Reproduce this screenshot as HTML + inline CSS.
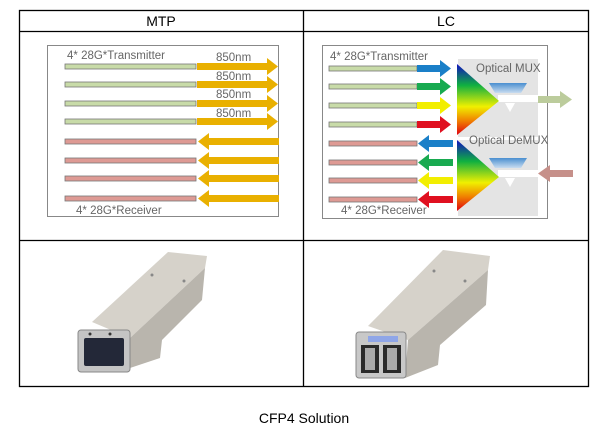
<!DOCTYPE html>
<html><head><meta charset="utf-8"><style>
body{margin:0;background:#fff;width:605px;height:438px;overflow:hidden}
svg{display:block}
text{font-family:"Liberation Sans",sans-serif}
</style></head><body>
<svg width="605" height="438" viewBox="0 0 605 438" xmlns="http://www.w3.org/2000/svg">
<defs>
<linearGradient id="sp" x1="0" y1="0" x2="0" y2="1">
<stop offset="0" stop-color="#1010c0"/><stop offset="0.3" stop-color="#10b040"/><stop offset="0.6" stop-color="#f0f000"/><stop offset="0.8" stop-color="#f08000"/><stop offset="1" stop-color="#e00010"/>
</linearGradient>
<linearGradient id="bl" x1="0" y1="0" x2="0" y2="1"><stop offset="0" stop-color="#4a8fd0"/><stop offset="1" stop-color="#c8dcf0"/></linearGradient>
</defs>
<g stroke="#000" stroke-width="1.3" fill="none">
<rect x="19.5" y="10.5" width="569" height="376"/>
<line x1="19" y1="31.5" x2="589" y2="31.5"/>
<line x1="19" y1="240.5" x2="589" y2="240.5"/>
<line x1="303.5" y1="10" x2="303.5" y2="387"/>
</g>
<text x="161" y="26" font-size="14" text-anchor="middle">MTP</text>
<text x="446" y="26" font-size="14" text-anchor="middle">LC</text>
<text x="304" y="423" font-size="14" text-anchor="middle">CFP4 Solution</text>

<rect x="47.5" y="45.5" width="231" height="171" fill="#fff" stroke="#888"/>
<g font-size="11.5" fill="#666">
<text x="67" y="59">4* 28G*Transmitter</text>
<text x="76" y="214">4* 28G*Receiver</text>
<text x="216" y="61">850nm</text><text x="216" y="80">850nm</text><text x="216" y="98">850nm</text><text x="216" y="117">850nm</text>
</g>
<g stroke="#777" stroke-width="0.8">
<rect x="65" y="64" width="131" height="5" fill="#c8dba8"/>
<rect x="65" y="82" width="131" height="5" fill="#c8dba8"/>
<rect x="65" y="101" width="131" height="5" fill="#c8dba8"/>
<rect x="65" y="119" width="131" height="5" fill="#c8dba8"/>
<rect x="65" y="139" width="131" height="5" fill="#de9a94"/>
<rect x="65" y="158" width="131" height="5" fill="#de9a94"/>
<rect x="65" y="176" width="131" height="5" fill="#de9a94"/>
<rect x="65" y="196" width="131" height="5" fill="#de9a94"/>
</g>
<g fill="#e9b000">
<path d="M197 63h70v-5l11 8.5-11 8.5v-5h-70z"/>
<path d="M197 81h70v-5l11 8.5-11 8.5v-5h-70z"/>
<path d="M197 100h70v-5l11 8.5-11 8.5v-5h-70z"/>
<path d="M197 118h70v-5l11 8.5-11 8.5v-5h-70z"/>
<path d="M279 138h-70v-5l-11 8.5 11 8.5v-5h70z"/>
<path d="M279 157h-70v-5l-11 8.5 11 8.5v-5h70z"/>
<path d="M279 175h-70v-5l-11 8.5 11 8.5v-5h70z"/>
<path d="M279 195h-70v-5l-11 8.5 11 8.5v-5h70z"/>
</g>

<rect x="322.5" y="45.5" width="225" height="173" fill="#fff" stroke="#888"/>
<rect x="458" y="59" width="80" height="78" fill="#e4e4e4"/>
<rect x="458" y="140" width="80" height="76" fill="#e4e4e4"/>
<rect x="498" y="95" width="40" height="7" fill="#fff"/>
<rect x="498" y="170" width="40" height="7" fill="#fff"/>
<g font-size="11.5" fill="#666">
<text x="330" y="60">4* 28G*Transmitter</text>
<text x="341" y="214">4* 28G*Receiver</text>
<text x="476" y="72">Optical MUX</text>
<text x="469" y="144">Optical DeMUX</text>
</g>
<path d="M489 83h38l-6 10h-26z" fill="url(#bl)"/>
<path d="M505 103h10l-5 9z" fill="#fff"/>
<path d="M489 158h38l-6 10h-26z" fill="url(#bl)"/>
<path d="M505 178h10l-5 9z" fill="#fff"/>
<path d="M457 64L457 135L499 101z" fill="url(#sp)"/>
<path d="M457 140L457 211L499 177z" fill="url(#sp)"/>
<path d="M538 96h22v-5l12 8.5-12 8.5v-5h-22z" fill="#bccc9c"/>
<path d="M573 170h-23v-5l-12 8.5 12 8.5v-5h23z" fill="#c6908a"/>
<g stroke="#777" stroke-width="0.8">
<rect x="329" y="66" width="88" height="5" fill="#c8dba8"/>
<rect x="329" y="84" width="88" height="5" fill="#c8dba8"/>
<rect x="329" y="103" width="88" height="5" fill="#c8dba8"/>
<rect x="329" y="122" width="88" height="5" fill="#c8dba8"/>
<rect x="329" y="141" width="88" height="5" fill="#de9a94"/>
<rect x="329" y="160" width="88" height="5" fill="#de9a94"/>
<rect x="329" y="178" width="88" height="5" fill="#de9a94"/>
<rect x="329" y="197" width="88" height="5" fill="#de9a94"/>
</g>
<path d="M417 65h23v-5l11 8.5-11 8.5v-5h-23z" fill="#1a7fc8"/>
<path d="M417 83h23v-5l11 8.5-11 8.5v-5h-23z" fill="#18aa50"/>
<path d="M417 102h23v-5l11 8.5-11 8.5v-5h-23z" fill="#f2ee00"/>
<path d="M417 121h23v-5l11 8.5-11 8.5v-5h-23z" fill="#e01020"/>
<path d="M453 140h-24v-5l-11 8.5 11 8.5v-5h24z" fill="#1a7fc8"/>
<path d="M453 159h-24v-5l-11 8.5 11 8.5v-5h24z" fill="#18aa50"/>
<path d="M453 177h-24v-5l-11 8.5 11 8.5v-5h24z" fill="#f2ee00"/>
<path d="M453 196h-24v-5l-11 8.5 11 8.5v-5h24z" fill="#e01020"/>

<g>
<path d="M92 322L168 252L207 256L205 268L130 338z" fill="#d6d2ca"/>
<path d="M130 338L205 268L202 300L162 340L160 358L130 368z" fill="#b9b5ad"/>
<rect x="78" y="330" width="52" height="42" rx="3" fill="#c4c4c4" stroke="#888"/>
<rect x="84" y="338" width="40" height="28" rx="2" fill="#232838"/>
<circle cx="90" cy="334" r="1.5" fill="#333"/><circle cx="110" cy="334" r="1.5" fill="#333"/>
<circle cx="152" cy="275" r="1.5" fill="#888"/><circle cx="184" cy="281" r="1.5" fill="#888"/>
</g>
<g>
<path d="M368 326L443 250L490 256L488 270L408 340z" fill="#d6d2ca"/>
<path d="M408 340L488 270L486 305L440 345L438 365L405 378z" fill="#b9b5ad"/>
<rect x="356" y="332" width="50" height="46" rx="3" fill="#c8c8c8" stroke="#888"/>
<rect x="368" y="336" width="30" height="6" fill="#8fa6e8"/>
<rect x="361" y="345" width="18" height="28" fill="#2a2a2a"/>
<rect x="383" y="345" width="18" height="28" fill="#2a2a2a"/>
<rect x="365" y="348" width="10" height="22" fill="#aaa"/>
<rect x="387" y="348" width="10" height="22" fill="#aaa"/>
<circle cx="434" cy="271" r="1.5" fill="#888"/><circle cx="465" cy="281" r="1.5" fill="#888"/>
</g>
</svg>
</body></html>
